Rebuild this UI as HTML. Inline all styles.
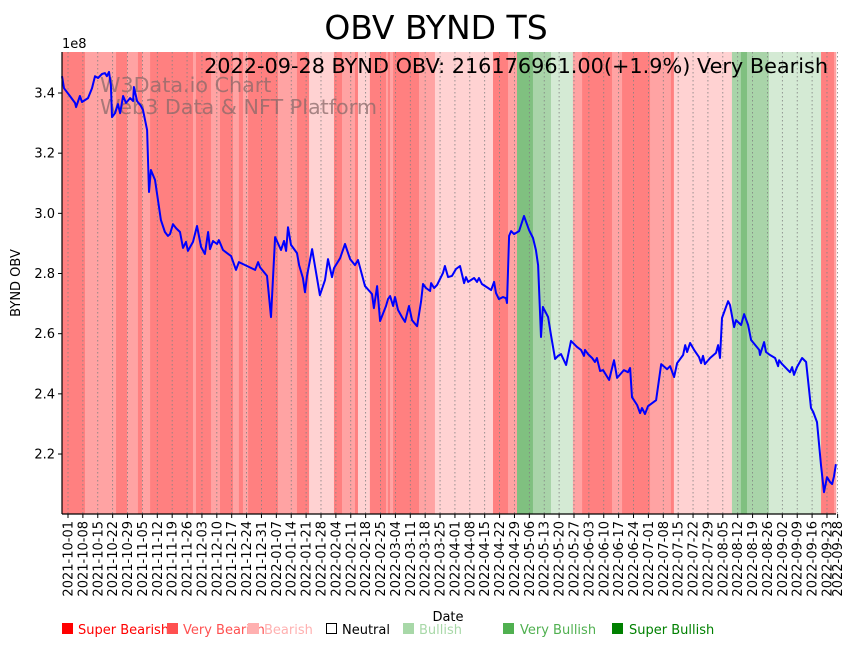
<!DOCTYPE html>
<html><head><meta charset="utf-8"><style>
body{margin:0;background:#fff;}
svg{display:block;font-family:"DejaVu Sans","Liberation Sans",sans-serif;}
</style></head><body>
<svg id="chart" width="855" height="646" viewBox="0 0 855 646" xmlns="http://www.w3.org/2000/svg">
<text x="436" y="39" font-size="33" text-anchor="middle" fill="#000">OBV BYND TS</text>
<g id="bands"></g>
<g id="grid"></g>
<g id="yticks"></g>
<g id="xticks"></g>
<text x="100" y="92" font-size="20.7" fill="#8a6a6a" fill-opacity="0.75">W3Data.io Chart</text>
<text x="100" y="114" font-size="20.7" fill="#8a6a6a" fill-opacity="0.75">Web3 Data &amp; NFT Platform</text>
<path id="obvline" fill="none" stroke="#0000ff" stroke-width="2" stroke-linejoin="round"></path>
<text x="828" y="73" font-size="20.8" text-anchor="end" fill="#000">2022-09-28 BYND OBV: 216176961.00(+1.9%) Very Bearish</text>
<line x1="62" y1="52" x2="62" y2="514" stroke="#000" stroke-width="1.2"/>
<line x1="62" y1="514" x2="836" y2="514" stroke="#000" stroke-width="1.2"/>
<text x="62" y="48" font-size="13">1e8</text>
<text transform="translate(20,283) rotate(-90)" font-size="13" text-anchor="middle">BYND OBV</text>
<text x="448" y="621" font-size="13" text-anchor="middle">Date</text>
<g font-size="13">
<g><rect x="62" y="623" width="11" height="11" fill="#ff0000"/><text x="78" y="634" fill="#ff0000">Super Bearish</text></g>
<g><rect x="167" y="623" width="11" height="11" fill="#ff5050"/><text x="183" y="634" fill="#ff5050">Very Bearish</text></g>
<g><rect x="248" y="623" width="11" height="11" fill="#ffb0b0"/><text x="264" y="634" fill="#ffb0b0">Bearish</text></g>
<g><rect x="326.5" y="623.5" width="10" height="10" fill="none" stroke="#000"/><text x="342" y="634" fill="#000">Neutral</text></g>
<g><rect x="403" y="623" width="11" height="11" fill="#a8d8a8"/><text x="419" y="634" fill="#a8d8a8">Bullish</text></g>
<g><rect x="503" y="623" width="11" height="11" fill="#50b050"/><text x="520" y="634" fill="#50b050">Very Bullish</text></g>
<g><rect x="612" y="623" width="11" height="11" fill="#008000"/><text x="629" y="634" fill="#008000">Super Bullish</text></g>
</g>
</svg>
<script>
// days since 2021-10-01 and OBV (x1e8)
const obvDays = [-2.8,-1.9,0.9,3.3,3.8,5.6,6.6,9.4,11.3,12.7,14.1,16.0,17.4,18.3,19.3,20.2,20.7,22.1,23.5,24.5,25.9,27.3,29.2,30.6,31.0,32.5,34.3,35.3,37.2,38.1,39.0,40.9,43.7,45.6,47.0,48.0,49.4,50.8,52.7,54.1,55.5,56.4,58.8,60.7,62.6,64.4,65.9,66.8,68.2,70.1,71.0,72.9,74.8,76.7,79.0,80.4,88.0,89.4,90.3,93.6,94.1,95.5,97.4,100.2,101.6,102.6,103.5,104.9,107.7,108.7,110.5,111.5,112.4,114.8,118.5,120.9,122.3,124.2,125.1,128.0,130.3,132.7,135.0,136.4,139.7,143.0,143.9,145.4,146.8,149.6,150.5,151.5,152.9,153.8,155.2,157.1,158.5,160.4,161.8,163.7,164.2,166.1,167.0,168.4,170.3,170.8,172.2,173.6,176.4,177.3,178.8,180.6,182.5,184.4,186.3,187.2,188.2,191.0,192.4,193.3,194.7,197.6,199.0,200.4,201.3,202.7,204.6,206.0,206.5,207.5,208.4,209.8,212.2,214.5,216.9,218.7,220.1,221.1,222.5,223.4,225.8,227.2,229.1,230.5,231.9,234.3,236.6,239.4,241.3,242.7,243.2,244.6,246.5,247.9,248.8,250.3,251.7,254.5,256.8,258.3,261.5,263.4,264.4,265.3,267.7,269.1,270.0,271.4,272.8,276.6,279.0,281.8,283.2,285.1,286.5,289.3,290.3,291.2,292.6,294.5,296.8,297.8,298.7,299.6,302.0,304.8,305.8,306.7,307.6,310.5,311.4,313.3,314.2,316.6,318.0,319.9,321.3,325.1,325.5,327.4,328.3,330.2,332.6,334.0,334.5,335.9,339.6,340.6,341.5,342.9,345.3,347.2,349.5,350.5,352.3,354.2,355.6,357.0,358.4,359.4,360.3,361.2];
const obvValues = [3.456,3.416,3.390,3.367,3.353,3.390,3.370,3.383,3.416,3.456,3.450,3.463,3.466,3.456,3.470,3.426,3.320,3.333,3.363,3.333,3.390,3.367,3.383,3.373,3.420,3.373,3.357,3.343,3.277,3.071,3.144,3.111,2.978,2.938,2.925,2.931,2.964,2.951,2.938,2.885,2.905,2.875,2.905,2.958,2.888,2.865,2.938,2.881,2.908,2.898,2.911,2.878,2.868,2.858,2.812,2.838,2.812,2.838,2.821,2.792,2.755,2.655,2.921,2.878,2.908,2.875,2.954,2.895,2.868,2.828,2.785,2.738,2.792,2.881,2.728,2.778,2.848,2.788,2.818,2.851,2.898,2.848,2.828,2.845,2.758,2.732,2.685,2.758,2.642,2.692,2.715,2.725,2.692,2.722,2.679,2.655,2.639,2.692,2.645,2.629,2.625,2.708,2.765,2.752,2.742,2.768,2.752,2.762,2.802,2.825,2.788,2.792,2.815,2.825,2.768,2.788,2.772,2.785,2.772,2.785,2.765,2.752,2.745,2.772,2.735,2.715,2.722,2.718,2.702,2.925,2.941,2.931,2.941,2.991,2.944,2.918,2.878,2.828,2.589,2.689,2.655,2.595,2.516,2.526,2.532,2.496,2.576,2.556,2.546,2.526,2.546,2.532,2.519,2.506,2.519,2.476,2.479,2.446,2.512,2.453,2.479,2.472,2.486,2.389,2.363,2.336,2.353,2.333,2.359,2.379,2.499,2.482,2.492,2.456,2.502,2.529,2.562,2.539,2.569,2.546,2.522,2.502,2.526,2.499,2.519,2.536,2.562,2.519,2.652,2.708,2.695,2.622,2.645,2.629,2.665,2.629,2.579,2.546,2.529,2.572,2.539,2.529,2.519,2.492,2.512,2.499,2.472,2.489,2.463,2.489,2.519,2.506,2.353,2.340,2.306,2.163,2.073,2.123,2.107,2.100,2.126,2.166];
// signal band start days and level (-3 super bearish .. 3 super bullish)
const bandStarts = [-2.9,8,22.6,27.8,32.9,34.8,38.6,58.8,60.2,67.3,71.5,77.6,80.4,82.3,84.7,98.8,107.7,113.4,125.1,128.9,135,136.4,142,149.6,150.5,151.5,152.9,165.1,172.6,199.9,207,211.2,218.7,227.2,237.5,241.8,255.9,260.6,273.8,283.6,285,312.3,316.5,319.4,329.7,354.2,360.3];
const bandLevels = [-3,-2,-3,-2,-3,-2,-3,-2,-3,-2,-3,-2,-3,-2,-3,-2,-3,-1,-3,-2,-3,-1,-3,-2,-3,-2,-3,-2,-1,-3,-2,3,2,1,-2,-3,-2,-3,-2,-3,-1,2,3,2,1,-3,-2];
const bandEnd = 361.5;
const yTicks = [2.2,2.4,2.6,2.8,3.0,3.2,3.4];
const yTickLabels = ["2.2","2.4","2.6","2.8","3.0","3.2","3.4"];
const xTickDays = [0,7,14,21,28,35,42,49,56,63,70,77,84,91,98,105,112,119,126,133,140,147,154,161,168,175,182,189,196,203,210,217,224,231,238,245,252,259,266,273,280,287,294,301,308,315,322,329,336,343,350,357,362];
const xTickLabels = ["2021-10-01","2021-10-08","2021-10-15","2021-10-22","2021-10-29","2021-11-05","2021-11-12","2021-11-19","2021-11-26","2021-12-03","2021-12-10","2021-12-17","2021-12-24","2021-12-31","2022-01-07","2022-01-14","2022-01-21","2022-01-28","2022-02-04","2022-02-11","2022-02-18","2022-02-25","2022-03-04","2022-03-11","2022-03-18","2022-03-25","2022-04-01","2022-04-08","2022-04-15","2022-04-22","2022-04-29","2022-05-06","2022-05-13","2022-05-20","2022-05-27","2022-06-03","2022-06-10","2022-06-17","2022-06-24","2022-07-01","2022-07-08","2022-07-15","2022-07-22","2022-07-29","2022-08-05","2022-08-12","2022-08-19","2022-08-26","2022-09-02","2022-09-09","2022-09-16","2022-09-23","2022-09-28"];

const NS = "http://www.w3.org/2000/svg";
const L = 62, R = 836, T = 52, B = 514;
function xs(d){ return 68 + d * 2.126; }
function ys(v){ return 93 + (3.4 - v) * 300.85; }
function clampX(x){ return Math.max(L, Math.min(R, x)); }
const bandColor = {"-3":"#ff8080","-2":"#ffa3a3","-1":"#ffd2d2","1":"#d4ead4","2":"#a9d4a9","3":"#80c080"};

const gb = document.getElementById('bands');
for (let i = 0; i < bandStarts.length; i++) {
  const x0 = clampX(xs(bandStarts[i]));
  const x1 = clampX(xs(i + 1 < bandStarts.length ? bandStarts[i + 1] : bandEnd));
  const r = document.createElementNS(NS, 'rect');
  r.setAttribute('x', x0); r.setAttribute('y', T);
  r.setAttribute('width', Math.max(0, x1 - x0 + 0.3)); r.setAttribute('height', B - T);
  r.setAttribute('fill', bandColor[String(bandLevels[i])]);
  
  
  gb.appendChild(r);
}

const gg = document.getElementById('grid');
const gx = document.getElementById('xticks');
for (let i = 0; i < xTickDays.length; i++) {
  const x = xs(xTickDays[i]);
  const ln = document.createElementNS(NS, 'line');
  ln.setAttribute('x1', x); ln.setAttribute('x2', x); ln.setAttribute('y1', T); ln.setAttribute('y2', B);
  ln.setAttribute('stroke', '#808080'); ln.setAttribute('stroke-width', '0.8'); ln.setAttribute('stroke-dasharray', '1.5,2.5');
  
  
  gg.appendChild(ln);
  const tk = document.createElementNS(NS, 'line');
  tk.setAttribute('x1', x); tk.setAttribute('x2', x); tk.setAttribute('y1', B); tk.setAttribute('y2', B + 4);
  tk.setAttribute('stroke', '#000');
  
  
  gx.appendChild(tk);
  const t = document.createElementNS(NS, 'text');
  t.setAttribute('transform', 'translate(' + (x + 4.5) + ',' + (B + 7) + ') rotate(-90)');
  t.setAttribute('text-anchor', 'end'); t.setAttribute('font-size', '13');
  t.textContent = xTickLabels[i];
  
  
  gx.appendChild(t);
}

const gy = document.getElementById('yticks');
for (let i = 0; i < yTicks.length; i++) {
  const y = ys(yTicks[i]);
  const tk = document.createElementNS(NS, 'line');
  tk.setAttribute('x1', L - 4); tk.setAttribute('x2', L); tk.setAttribute('y1', y); tk.setAttribute('y2', y);
  tk.setAttribute('stroke', '#000');
  
  
  gy.appendChild(tk);
  const t = document.createElementNS(NS, 'text');
  t.setAttribute('x', L - 7); t.setAttribute('y', y + 4.5);
  t.setAttribute('text-anchor', 'end'); t.setAttribute('font-size', '13');
  t.textContent = yTickLabels[i];
  
  
  gy.appendChild(t);
}

let d = '';
for (let i = 0; i < obvDays.length; i++) {
  d += (i ? 'L' : 'M') + xs(obvDays[i]).toFixed(1) + ',' + ys(obvValues[i]).toFixed(1);
}
document.getElementById('obvline').setAttribute('d', d);
</script>
</body></html>
